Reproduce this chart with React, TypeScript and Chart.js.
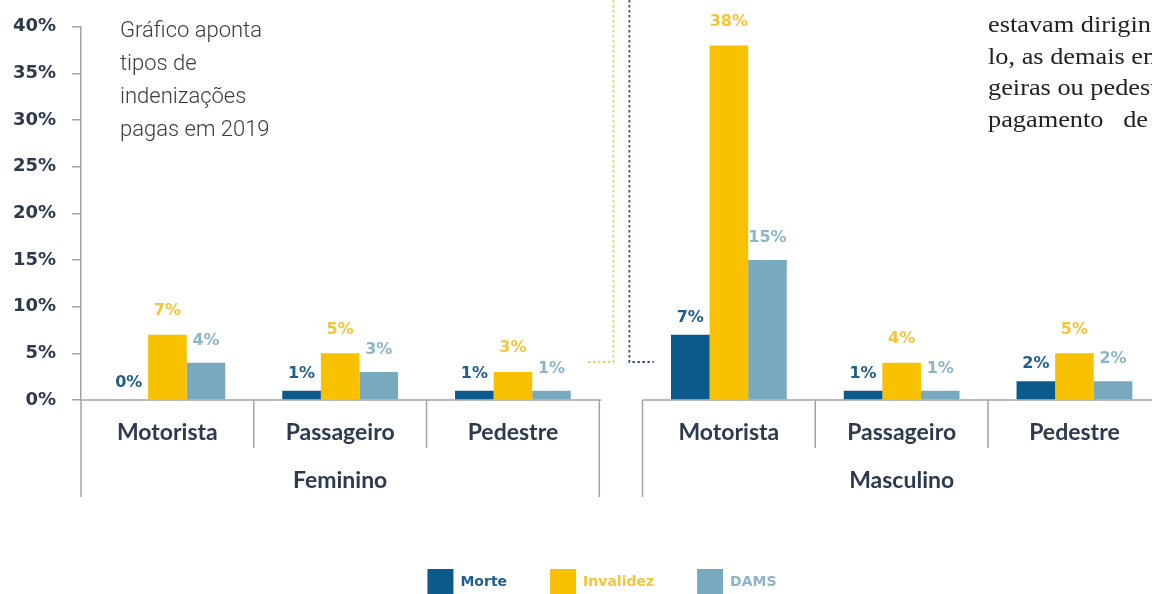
import React, { useEffect, useRef } from "react";
import { Chart, registerables } from "chart.js";

Chart.register(...registerables);

// ---------- data ----------
const CATEGORIES = ["Motorista", "Passageiro", "Pedestre"];
const GROUPS = ["Feminino", "Masculino"];
const SERIES = ["Morte", "Invalidez", "DAMS"];
// order: Feminino (Motorista, Passageiro, Pedestre), Masculino (Motorista, Passageiro, Pedestre)
const MORTE = [0, 1, 1, 7, 1, 2];
const INVALIDEZ = [7, 5, 3, 38, 4, 5];
const DAMS = [4, 3, 1, 15, 1, 2];
const VALUES = [MORTE, INVALIDEZ, DAMS];
const Y_MIN = 0;
const Y_MAX = 40;
const Y_STEP = 5;

const NOTE_LINES = ["Gráfico aponta", "tipos de", "indenizações", "pagas em 2019"];
const ARTICLE_LINES = ["estavam dirigindo", "lo, as demais em", "geiras ou pedestres", "pagamento   de"];

// ---------- styles / layout ----------
const BAR_COLORS = ["#0b5a8b", "#f8c100", "#79a9bf"];
const VALUE_COLORS = ["#1f5e8d", "#f4c43a", "#8cb5c8"];
const LABEL_LIFT = [17, 24, 22];
const INK = "#2c3a50";
const RULE = "#a3a3a3";
const CANVAS_W = 1204;
const CANVAS_H = 605;
const PLOT_BOTTOM = 400;
const GROUP_GAP = 0.25;
const N = CATEGORIES.length;
const catPos = (k: number) => (k % N) + Math.floor(k / N) * (N + GROUP_GAP);
const CAT_FONT = { family: "Lato", size: 23, weight: "bold" as const };

const framePlugin = {
  id: "frame",
  beforeDatasetsDraw(chart: any) {
    const { ctx } = chart;
    const x = chart.scales.x;
    const y = chart.scales.y;
    const y0 = y.getPixelForValue(0);
    ctx.save();
    ctx.strokeStyle = RULE;
    ctx.lineWidth = 1.5;
    GROUPS.forEach((g, gi) => {
      const base = gi * (N + GROUP_GAP);
      const left = x.getPixelForValue(base - 0.5);
      const right = x.getPixelForValue(base + N - 0.5);
      ctx.beginPath();
      ctx.moveTo(left, y0);
      ctx.lineTo(right + 2, y0);
      ctx.stroke();
      for (let c = 0; c <= N; c++) {
        const px = x.getPixelForValue(base - 0.5 + c);
        const len = c === 0 || c === N ? 97 : 48;
        ctx.beginPath();
        ctx.moveTo(px, y0);
        ctx.lineTo(px, y0 + len);
        ctx.stroke();
      }
      ctx.fillStyle = INK;
      ctx.font = `bold ${CAT_FONT.size}px ${CAT_FONT.family}`;
      ctx.textAlign = "center";
      ctx.textBaseline = "middle";
      ctx.fillText(g, x.getPixelForValue(base + (N - 1) / 2), y0 + 81);
    });
    ctx.restore();
  },
  afterDatasetsDraw(chart: any) {
    const { ctx } = chart;
    ctx.save();
    ctx.font = "bold 16px DejaVu Sans";
    ctx.textAlign = "center";
    ctx.textBaseline = "middle";
    VALUES.forEach((vals, s) => {
      const meta = chart.getDatasetMeta(s);
      meta.data.forEach((bar: any, k: number) => {
        ctx.fillStyle = VALUE_COLORS[s];
        ctx.fillText(`${vals[k]}%`, bar.x, bar.y - LABEL_LIFT[s]);
      });
    });
    ctx.restore();
  },
  afterDraw(chart: any) {
    const { ctx } = chart;
    const x = chart.scales.x;
    const y = chart.scales.y;
    const y0 = y.getPixelForValue(0);
    const mid = (x.getPixelForValue(N - 0.5) + x.getPixelForValue(N - 0.5 + GROUP_GAP)) / 2;
    const level = y0 - 38;
    ctx.save();
    ctx.lineWidth = 1.8;
    ctx.setLineDash([2.5, 2.5]);
    ctx.strokeStyle = "#efcf5a";
    ctx.beginPath();
    ctx.moveTo(mid - 7.5, 0);
    ctx.lineTo(mid - 7.5, level);
    ctx.lineTo(mid - 33, level);
    ctx.stroke();
    ctx.strokeStyle = "#37547c";
    ctx.beginPath();
    ctx.moveTo(mid + 8.5, 0);
    ctx.lineTo(mid + 8.5, level);
    ctx.lineTo(mid + 33, level);
    ctx.stroke();
    ctx.restore();
  },
};

export default function App() {
  const ref = useRef<HTMLCanvasElement>(null);
  useEffect(() => {
    const chart = new Chart(ref.current as HTMLCanvasElement, {
      type: "bar",
      data: {
        datasets: SERIES.map((name, s) => ({
          label: name,
          data: VALUES[s].map((v, k) => ({ x: catPos(k), y: v })),
          backgroundColor: BAR_COLORS[s],
          borderWidth: 0,
          categoryPercentage: 0.67,
          barPercentage: 1,
        })),
      },
      options: {
        responsive: false,
        animation: false,
        events: [],
        layout: { padding: { top: 26, left: 0, right: 0, bottom: 0 } },
        plugins: {
          legend: {
            position: "bottom",
            labels: {
              boxWidth: 26,
              boxHeight: 26,
              padding: 43,
              font: { family: "DejaVu Sans", size: 14, weight: "bold" },
              generateLabels: (c: any) =>
                (Chart.defaults.plugins.legend.labels.generateLabels as any)(c).map((it: any, i: number) => ({
                  ...it,
                  fontColor: VALUE_COLORS[i],
                  lineWidth: 0,
                })),
            },
          },
          tooltip: { enabled: false },
        },
        scales: {
          x: {
            type: "linear",
            min: -0.5,
            max: 6.0,
            offset: false,
            grid: { display: false, drawTicks: false },
            border: { display: false },
            afterBuildTicks: (s: any) => {
              s.ticks = MORTE.map((_, k) => ({ value: catPos(k) }));
            },
            afterFit: (s: any) => {
              s.height = CANVAS_H - (s.chart.legend ? s.chart.legend.height : 0) - PLOT_BOTTOM;
            },
            ticks: {
              autoSkip: false,
              maxRotation: 0,
              minRotation: 0,
              padding: 19,
              font: CAT_FONT,
              color: INK,
              callback: (_v: any, i: number) => CATEGORIES[i % N],
            },
          },
          y: {
            min: Y_MIN,
            max: Y_MAX,
            afterFit: (s: any) => {
              s.width = 81;
            },
            grid: { drawOnChartArea: false, drawTicks: true, tickLength: 9, color: RULE, lineWidth: 1.5 },
            border: { display: true, color: RULE, width: 1.5 },
            ticks: {
              stepSize: Y_STEP,
              padding: 16,
              color: INK,
              font: { family: "DejaVu Sans", size: 18, weight: "bold" },
              callback: (v: any) => `${v}%`,
            },
          },
        },
      } as any,
      plugins: [framePlugin],
    });
    return () => chart.destroy();
  }, []);

  return (
    <div
      style={{
        position: "absolute",
        left: 0,
        top: 0,
        width: 1152,
        height: 594,
        overflow: "hidden",
        background: "#fff",
      }}
    >
      <canvas
        ref={ref}
        width={CANVAS_W}
        height={CANVAS_H}
        style={{ position: "absolute", left: 0, top: 0, width: CANVAS_W, height: CANVAS_H }}
      />
      <div
        style={{
          position: "absolute",
          left: 120,
          top: 13,
          fontFamily: "Roboto",
          fontWeight: 300,
          fontSize: 22,
          lineHeight: "33px",
          color: "#3b3b3b",
          whiteSpace: "nowrap",
        }}
      >
        {NOTE_LINES.map((l) => (
          <div key={l}>{l}</div>
        ))}
      </div>
      <div
        style={{
          position: "absolute",
          left: 988,
          top: 9,
          fontFamily: '"Liberation Serif"',
          fontSize: 23.5,
          lineHeight: "31.7px",
          color: "#222",
          whiteSpace: "pre",
          transform: "scaleX(1.12)",
          transformOrigin: "left top",
        }}
      >
        {ARTICLE_LINES.map((l) => (
          <div key={l}>{l}</div>
        ))}
      </div>
    </div>
  );
}
